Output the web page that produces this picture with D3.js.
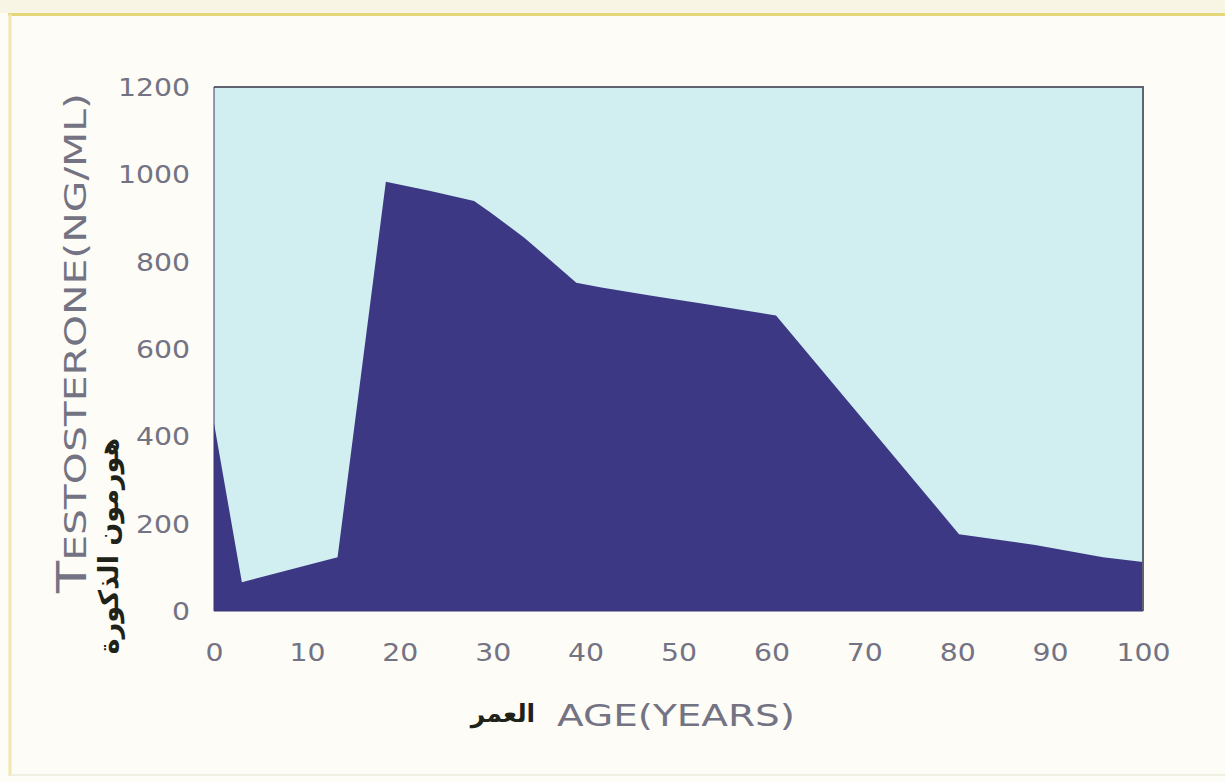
<!DOCTYPE html>
<html>
<head>
<meta charset="utf-8">
<script src="https://cdn.jsdelivr.net/npm/d3@7"></script>
<style>
  html, body { margin: 0; padding: 0; background: #fdfcf5; }
  svg { display: block; }
</style>
</head>
<body>
<svg id="chart" width="1225" height="782"></svg>
<script>
// ---- data ----
const ages   = [0, 3, 13.3, 18.5, 23.3, 28, 29.8, 33.4, 39, 41.7, 47.1, 52.5, 60.5, 80.2, 88.4, 95.7, 100];
const values = [430, 66, 123, 983, 962, 939, 912, 855, 752, 741, 722, 704, 677, 176, 151, 123, 112];
const xTicks = [0, 10, 20, 30, 40, 50, 60, 70, 80, 90, 100];
const yTicks = [0, 200, 400, 600, 800, 1000, 1200];
const yTitle = "TESTOSTERONE(NG/ML)";
const yTitleAr = "هورمون الذكورة";
const xTitle = "AGE(YEARS)";
const xTitleAr = "العمر";

const svg = d3.select("#chart");
const W = 1225, H = 782;
const plot = { left: 214, right: 1143, top: 87, bottom: 611 };

// page background and scan borders
svg.append("rect").attr("x", 0).attr("y", 0).attr("width", W).attr("height", H).attr("fill", "#fdfcf6");
svg.append("rect").attr("x", 0).attr("y", 0).attr("width", W).attr("height", 13).attr("fill", "#f8f5e4");
svg.append("line").attr("x1", 8).attr("x2", W).attr("y1", 14.5).attr("y2", 14.5)
  .attr("stroke", "#e4d77a").attr("stroke-width", 3);
svg.append("line").attr("x1", 10).attr("x2", 10).attr("y1", 14).attr("y2", 776)
  .attr("stroke", "#efe7ae").attr("stroke-width", 3);
svg.append("line").attr("x1", 10).attr("x2", W).attr("y1", 775).attr("y2", 775)
  .attr("stroke", "#eef0e2").attr("stroke-width", 2);

const x = d3.scaleLinear().domain([0, 100]).range([plot.left, plot.right]);
const y = d3.scaleLinear().domain([0, 1200]).range([plot.bottom, plot.top]);

// plot background
svg.append("rect")
  .attr("x", x(0)).attr("y", y(1200))
  .attr("width", x(100) - x(0)).attr("height", y(0) - y(1200))
  .attr("fill", "#d1eff1");

// area
const data = ages.map((a, i) => ({ a, v: values[i] }));
const area = d3.area().x(d => x(d.a)).y0(y(0)).y1(d => y(d.v));
svg.append("path").datum(data).attr("d", area).attr("fill", "#3c3884");

// frame: top and right border
svg.append("path")
  .attr("d", `M${x(0)},${y(1200)}H${x(100)}V${y(0)}`)
  .attr("fill", "none").attr("stroke", "#5f6470").attr("stroke-width", 2);
svg.append("path")
  .attr("d", `M${x(0)},${y(1200)}V${y(0)}H${x(100)}`)
  .attr("fill", "none").attr("stroke", "#3a3670").attr("stroke-width", 1);

const labelColor = "#737384";
const fontFam = "'DejaVu Sans', sans-serif";

// y axis
const gy = svg.append("g").attr("transform", `translate(${plot.left - 24},0)`)
  .call(d3.axisLeft(y).tickValues(yTicks).tickSize(0).tickPadding(0).tickFormat(d3.format("d")));
gy.select(".domain").remove();
gy.selectAll("text")
  .attr("font-family", fontFam).attr("font-size", 24)
  .attr("fill", labelColor).attr("transform", "scale(1.18,1)").attr("x", 0)
  .attr("dy", "0.36em");

// x axis
const gx = svg.append("g").attr("transform", `translate(0,${plot.bottom + 41})`)
  .call(d3.axisBottom(x).tickValues(xTicks).tickSize(0).tickPadding(0).tickFormat(d3.format("d")));
gx.select(".domain").remove();
gx.selectAll("text")
  .attr("font-family", fontFam).attr("font-size", 24)
  .attr("fill", labelColor).attr("transform", "scale(1.18,1)").attr("dy", "0.36em");

// y title (rotated)
const yt = svg.append("text")
  .attr("transform", "translate(86,343) rotate(-90)")
  .attr("text-anchor", "middle")
  .attr("font-family", fontFam).attr("font-size", 31)
  .attr("fill", labelColor)
  .attr("textLength", 500).attr("lengthAdjust", "spacingAndGlyphs");
yt.append("tspan").attr("font-size", 40).text(yTitle.slice(0, 1));
yt.append("tspan").text(yTitle.slice(1));

// arabic y title
svg.append("text")
  .attr("transform", "translate(118,546) rotate(-90)")
  .attr("text-anchor", "middle")
  .attr("font-family", fontFam).attr("font-size", 27).attr("font-weight", "bold")
  .attr("fill", "#1e2218")
  .text(yTitleAr);

// x title
svg.append("text")
  .attr("x", 676).attr("y", 726)
  .attr("text-anchor", "middle")
  .attr("font-family", fontFam).attr("font-size", 31)
  .attr("fill", labelColor)
  .attr("textLength", 238).attr("lengthAdjust", "spacingAndGlyphs")
  .text(xTitle);

svg.append("text")
  .attr("x", 503).attr("y", 722)
  .attr("text-anchor", "middle")
  .attr("font-family", fontFam).attr("font-size", 25).attr("font-weight", "bold")
  .attr("fill", "#1e2218")
  .text(xTitleAr);
</script>
</body>
</html>
